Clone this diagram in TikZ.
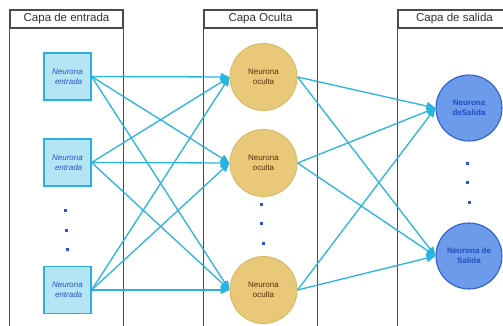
\documentclass[tikz,border=0pt]{standalone}
\usepackage{fontspec}
\setmainfont{Liberation Sans}
\usetikzlibrary{arrows.meta}
\definecolor{linkc}{HTML}{29B3E0}
\definecolor{infill}{HTML}{B3E5F5}
\definecolor{indraw}{HTML}{2AB0E0}
\definecolor{intext}{HTML}{2255CC}
\definecolor{hidfill}{HTML}{E8C97A}
\definecolor{hiddraw}{HTML}{D9BA66}
\definecolor{hidtext}{HTML}{5A2E08}
\definecolor{outfill}{HTML}{6B9BEA}
\definecolor{outdraw}{HTML}{2E5FD0}
\definecolor{outtext}{HTML}{1F4FBF}
\definecolor{colc}{HTML}{4A4A4A}
\definecolor{dotc}{HTML}{2255DD}
\tikzset{
  header/.style={draw=colc, line width=1.1pt, minimum width=113pt, minimum height=18pt, inner sep=0pt, font=\fontsize{11.5}{12}\selectfont, text=black!80},
  colline/.style={draw=colc, line width=1.1pt},
  inneuron/.style={rectangle, draw=indraw, fill=infill, line width=1.2pt, minimum size=47pt, inner sep=0pt, align=center, text=intext, font=\fontsize{8}{10}\selectfont\itshape},
  hidneuron/.style={circle, draw=hiddraw, fill=hidfill, line width=1pt, minimum size=67pt, inner sep=0pt, align=center, text=hidtext, font=\fontsize{8}{10}\selectfont},
  outneuron/.style={circle, draw=outdraw, fill=outfill, line width=1.1pt, minimum size=66pt, inner sep=0pt, align=center, text=outtext, font=\fontsize{8}{10}\selectfont\bfseries},
  link/.style={draw=linkc, line width=1.3pt, -{Triangle[length=9pt,width=8pt]}},
  dotmark/.style={fill=dotc, minimum size=3pt, inner sep=0pt, rectangle}
}
\begin{document}
\begin{tikzpicture}[x=1pt,y=-1pt]
\useasboundingbox (0,0) rectangle (503,326);
\clip (0,0) rectangle (503,326);
% columns
\node[header] (hin) at (66.5,19) {Capa de entrada};
\node[header] (hhid) at (260.5,19) {Capa Oculta};
\node[header] (hout) at (454.5,19) {Capa de salida};
\draw[colline] (hin.south west) -- ++(0,320);
\draw[colline] (hin.south east) -- ++(0,320);
\draw[colline] (hhid.south west) -- ++(0,320);
\draw[colline] (hhid.south east) -- ++(0,320);
\draw[colline] (hout.south west) -- ++(0,320);
\draw[colline] (hout.south east) -- ++(0,320);
% neurons
\node[inneuron] (i1) at (67.5,76.5) {Neurona\\ \ entrada};
\node[inneuron] (i2) at (67.5,162.5) {Neurona\\ \ entrada};
\node[inneuron] (i3) at (67.5,290) {Neurona\\ \ entrada};
\node[hidneuron] (h1) at (263.5,77) {Neurona\\oculta};
\node[hidneuron] (h2) at (263.5,163) {Neurona\\oculta};
\node[hidneuron] (h3) at (263.5,290) {Neurona\\oculta};
\node[outneuron] (o1) at (469,108) {Neurona\\deSalida};
\node[outneuron] (o2) at (469,256) {Neurona de\\Salida};
% dots
\node[dotmark] (di1) at (65,210) {};
\node[dotmark] (di2) at (66,230) {};
\node[dotmark] (di3) at (67,249) {};
\node[dotmark] (dh1) at (261,204) {};
\node[dotmark] (dh2) at (261.5,223) {};
\node[dotmark] (dh3) at (263,243) {};
\node[dotmark] (do1) at (467,163) {};
\node[dotmark] (do2) at (467.5,182) {};
\node[dotmark] (do3) at (469,202) {};
% links
\foreach \a in {i1,i2,i3}{
  \foreach \b in {h1,h2,h3}{
    \draw[link] (\a.east) -- (\b.west);
  }
}
\foreach \a in {h1,h2,h3}{
  \foreach \b in {o1,o2}{
    \draw[link] (\a.east) -- (\b.west);
  }
}
\end{tikzpicture}
\end{document}
